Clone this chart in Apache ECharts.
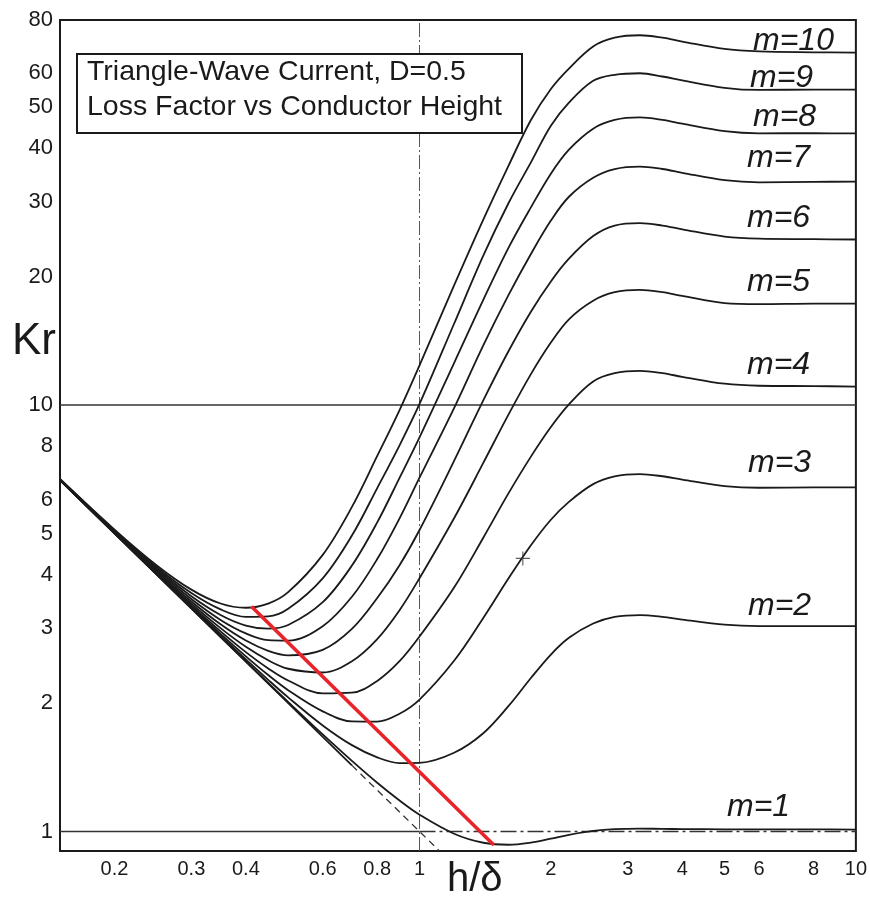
<!DOCTYPE html>
<html>
<head>
<meta charset="utf-8">
<script src="https://cdn.jsdelivr.net/npm/echarts@6/dist/echarts.min.js"></script>
<style>
html,body{margin:0;padding:0;background:#fff;}
#chart{width:870px;height:897px;}
</style>
</head>
<body>
<div id="chart"></div>
<script>
// h/delta sample points (x values)
const hOverDelta = [0.15, 0.2, 0.25, 0.3, 0.35, 0.4, 0.45, 0.5, 0.6, 0.7, 0.8, 0.9, 1.0, 1.2, 1.4, 1.6, 1.8, 2.0, 2.2, 2.5, 2.8, 3.2, 3.6, 4.0, 5.0, 6.0, 8.0, 10];

// Kr values, one array per number of layers m
const krM1  = [6.668, 5.000, 4.002, 3.336, 2.862, 2.507, 2.232, 2.013, 1.689, 1.464, 1.301, 1.182, 1.095, 0.988, 0.941, 0.931, 0.942, 0.962, 0.982, 1.003, 1.013, 1.016, 1.014, 1.013, 1.012, 1.012, 1.012, 1.010];
const krM2  = [6.669, 5.004, 4.008, 3.347, 2.879, 2.532, 2.268, 2.063, 1.773, 1.594, 1.492, 1.447, 1.449, 1.53, 1.70, 1.97, 2.29, 2.60, 2.846, 3.074, 3.186, 3.218, 3.188, 3.141, 3.055, 3.031, 3.030, 3.030];
const krM3  = [6.671, 5.009, 4.018, 3.365, 2.907, 2.575, 2.328, 2.145, 1.913, 1.812, 1.810, 1.889, 2.039, 2.514, 3.168, 3.924, 4.690, 5.384, 5.93, 6.525, 6.807, 6.888, 6.809, 6.686, 6.459, 6.400, 6.410, 6.412];
const krM4  = [6.674, 5.016, 4.033, 3.390, 2.947, 2.634, 2.412, 2.260, 2.108, 2.116, 2.255, 2.508, 2.865, 3.733, 4.887, 6.215, 7.571, 8.884, 10.04, 11.357, 11.877, 12.027, 11.880, 11.651, 11.224, 11.10, 11.08, 11.05];
const krM5  = [6.678, 5.026, 4.051, 3.422, 2.998, 2.710, 2.521, 2.408, 2.360, 2.508, 2.827, 3.304, 3.927, 5.426, 7.318, 9.512, 11.821, 14.015, 15.892, 17.570, 18.394, 18.633, 18.399, 18.034, 17.352, 17.25, 17.30, 17.30];
const krM6  = [6.683, 5.038, 4.074, 3.462, 3.061, 2.804, 2.653, 2.589, 2.667, 2.986, 3.527, 4.212, 5.094, 7.395, 10.259, 13.392, 16.560, 19.497, 22.044, 24.911, 26.361, 26.707, 26.367, 25.835, 24.841, 24.557, 24.50, 24.45];
const krM7  = [6.689, 5.051, 4.101, 3.509, 3.135, 2.914, 2.809, 2.802, 3.030, 3.552, 4.354, 5.425, 6.758, 9.839, 13.806, 18.131, 22.610, 27.083, 30.802, 34.136, 35.775, 36.250, 35.784, 35.054, 33.691, 33.302, 33.390, 33.412];
const krM8  = [6.696, 5.067, 4.132, 3.563, 3.220, 3.041, 2.990, 3.049, 3.449, 4.204, 5.308, 6.751, 8.400, 12.549, 17.651, 23.395, 29.087, 34.893, 39.719, 44.490, 46.638, 47.260, 46.649, 45.692, 43.903, 43.392, 43.40, 43.35];
const krM9  = [6.703, 5.085, 4.167, 3.624, 3.317, 3.186, 3.194, 3.328, 3.924, 4.944, 6.389, 8.048, 10.060, 15.516, 22.404, 29.776, 37.078, 45.185, 51.188, 57.6, 59.5, 60.0, 58.963, 57.748, 55.477, 54.828, 54.95, 54.95];
const krM10 = [6.712, 5.105, 4.207, 3.692, 3.425, 3.347, 3.423, 3.641, 4.454, 5.770, 7.597, 9.735, 12.393, 19.077, 27.225, 36.445, 46.614, 55.131, 61.548, 69.339, 72.710, 73.685, 72.726, 71.223, 68.412, 67.5, 67.2, 67.1];

const curveNames = ['m=1','m=2','m=3','m=4','m=5','m=6','m=7','m=8','m=9','m=10'];
const curveValues = [krM1, krM2, krM3, krM4, krM5, krM6, krM7, krM8, krM9, krM10];

// reference lines (data units)
const asymptoteSolid  = [[0.15, 6.667], [0.7, 1.429]];
const asymptoteDashed = [[0.7, 1.429], [1.111, 0.9]];
const minimumLine     = [[0.412, 3.37], [1.48, 0.93]];
const gridLine10      = [[0.15, 10], [10, 10]];
const gridLine1Solid  = [[0.15, 1], [1, 1]];
const gridLine1Dash   = [[1, 1], [10, 1]];
const gridLineX1      = [[1, 0.9], [1, 80]];
const crossMark       = [[1.725, 4.37]];

// tick labels
const xTickValues = [0.2, 0.3, 0.4, 0.6, 0.8, 1, 2, 3, 4, 5, 6, 8, 10];
const yTickValues = [1, 2, 3, 4, 5, 6, 8, 10, 20, 30, 40, 50, 60, 80];

const titleLines = ['Triangle-Wave Current, D=0.5', 'Loss Factor vs Conductor Height'];
const yName = 'Kr';
const xName = 'h/δ';

const FONT = '"Liberation Sans", Arial, Helvetica, sans-serif';
const chart = echarts.init(document.getElementById('chart'), null, {renderer: 'canvas'});

const fmt = v => String(parseFloat(Number(v).toPrecision(4)));

const curveSeries = curveValues.map((vals, i) => ({
  name: curveNames[i],
  type: 'line',
  data: hOverDelta.map((x, j) => [x, vals[j]]),
  smooth: 0.35,
  showSymbol: false,
  silent: true,
  lineStyle: {color: '#1a1a1a', width: 1.8},
  z: 3
}));

function refLine(data, color, width, type, z) {
  return {type: 'line', data: data, showSymbol: false, silent: true,
          lineStyle: {color: color, width: width, type: type}, z: z || 2};
}

const labelPos = [
  [727, 807], [748, 606], [748, 463], [747, 365], [747, 282],
  [747, 218], [747, 158], [753, 117], [750, 78], [753, 41]
];

const graphics = [
  {type: 'rect', shape: {x: 77, y: 54, width: 445, height: 79},
   style: {fill: '#fff', stroke: '#1a1a1a', lineWidth: 2}, z: 100},
  {type: 'text', x: 87, y: 72, z: 101,
   style: {text: titleLines[0], font: '28.5px ' + FONT, fill: '#1a1a1a', textVerticalAlign: 'middle', verticalAlign: 'middle'}},
  {type: 'text', x: 87, y: 107, z: 101,
   style: {text: titleLines[1], font: '28.5px ' + FONT, fill: '#1a1a1a', textVerticalAlign: 'middle', verticalAlign: 'middle'}},
  {type: 'text', x: 12, y: 342, z: 101,
   style: {text: yName, font: '44px ' + FONT, fill: '#1a1a1a', textVerticalAlign: 'middle', verticalAlign: 'middle'}},
  {type: 'text', x: 447, y: 880, z: 101,
   style: {text: xName, font: '40px ' + FONT, fill: '#1a1a1a', textVerticalAlign: 'middle', verticalAlign: 'middle'}}
];
curveNames.forEach((n, i) => {
  graphics.push({type: 'text', x: labelPos[i][0], y: labelPos[i][1], z: 101,
    style: {text: n, font: 'italic 32px ' + FONT, fill: '#1a1a1a', textVerticalAlign: 'middle', verticalAlign: 'middle'}});
});

const option = {
  animation: false,
  backgroundColor: '#fff',
  grid: {left: 60, right: 10, top: 20, bottom: 46, show: true, borderColor: '#1a1a1a', borderWidth: 2, backgroundColor: 'transparent'},
  xAxis: {
    type: 'log', logBase: 10, min: 0.15, max: 10,
    axisLine: {show: false}, axisTick: {show: false}, splitLine: {show: false},
    axisLabel: {customValues: xTickValues, formatter: fmt, fontSize: 20, color: '#1a1a1a', margin: 8, fontFamily: FONT}
  },
  yAxis: {
    type: 'log', logBase: 10, min: 0.9, max: 80,
    axisLine: {show: false}, axisTick: {show: false}, splitLine: {show: false},
    axisLabel: {customValues: yTickValues, formatter: fmt, fontSize: 22, color: '#1a1a1a', margin: 7, fontFamily: FONT}
  },
  series: [
    refLine(gridLine10, '#333', 1.5, 'solid'),
    refLine(gridLine1Solid, '#333', 1.5, 'solid'),
    refLine(gridLine1Dash, '#333', 1.5, [16, 4, 3, 4]),
    refLine(gridLineX1, '#555', 1, [14, 3, 2, 3]),
    refLine(asymptoteSolid, '#1a1a1a', 1.8, 'solid', 3),
    refLine(asymptoteDashed, '#333', 1.3, [7, 5], 3),
    ...curveSeries,
    refLine(minimumLine, '#e8232a', 3.6, 'solid', 5),
    {type: 'scatter', data: crossMark, silent: true, symbol: 'path://M4.6,0h0.8v10h-0.8zM0,4.6h10v0.8h-10z', symbolSize: 14,
     itemStyle: {color: '#333'}, z: 4}
  ],
  graphic: graphics
};
chart.setOption(option);
</script>
</body>
</html>
